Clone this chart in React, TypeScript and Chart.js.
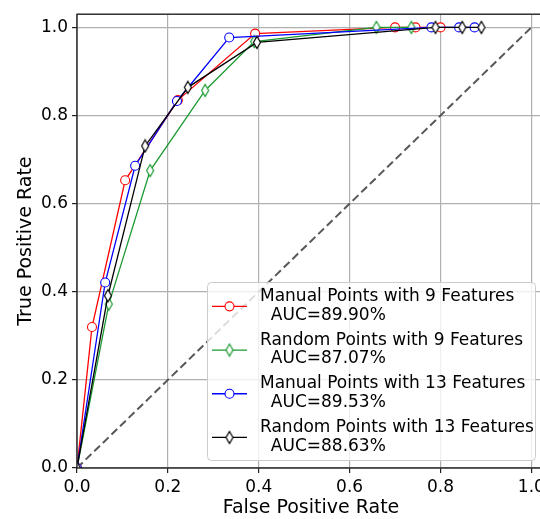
import { useEffect, useRef } from 'react';
import { Chart, registerables } from 'chart.js';

Chart.register(...registerables);

const seriesLabels = [
  'Manual Points with 9 Features',
  'Random Points with 9 Features',
  'Manual Points with 13 Features',
  'Random Points with 13 Features',
];
const aucLabels = ['89.90%', '87.07%', '89.53%', '88.63%'];
const seriesColors = ['#ff0000', '#1a9a30', '#0000ff', '#000000'];
const seriesMarkers = ['circle', 'diamond', 'circle', 'diamond'];

const manual9FPR = [0, 0.033, 0.106, 0.222, 0.392, 0.700, 0.745, 0.800];
const manual9TPR = [0, 0.320, 0.653, 0.835, 0.986, 1.0, 1.0, 1.0];
const random9FPR = [0, 0.070, 0.161, 0.282, 0.390, 0.659, 0.736];
const random9TPR = [0, 0.372, 0.675, 0.857, 0.968, 1.0, 1.0];
const manual13FPR = [0, 0.062, 0.128, 0.220, 0.335, 0.780, 0.841, 0.875];
const manual13TPR = [0, 0.421, 0.686, 0.833, 0.977, 1.0, 1.0, 1.0];
const random13FPR = [0, 0.068, 0.150, 0.244, 0.396, 0.789, 0.848, 0.890];
const random13TPR = [0, 0.391, 0.731, 0.864, 0.966, 1.0, 1.0, 1.0];

const seriesFPR = [manual9FPR, random9FPR, manual13FPR, random13FPR];
const seriesTPR = [manual9TPR, random9TPR, manual13TPR, random13TPR];

const chanceX = [0, 1];
const chanceY = [0, 1];

const tickValues = [0, 0.2, 0.4, 0.6, 0.8, 1.0];
const axisMax = 1.03;

const FONT = "'DejaVu Sans', sans-serif";

function makeThinDiamond(color: string): HTMLCanvasElement {
  const c = document.createElement('canvas');
  c.width = 10;
  c.height = 15;
  const g = c.getContext('2d')!;
  g.beginPath();
  g.moveTo(5, 1.5);
  g.lineTo(8.5, 7.5);
  g.lineTo(5, 13.5);
  g.lineTo(1.5, 7.5);
  g.closePath();
  g.fillStyle = '#ffffff';
  g.fill();
  g.lineWidth = 1.2;
  g.strokeStyle = color;
  g.stroke();
  return c;
}

export default function App() {
  const ref = useRef<HTMLCanvasElement>(null);

  useEffect(() => {
    const canvas = ref.current!;
    const diamonds = seriesColors.map((c) => makeThinDiamond(c));

    const datasets: any[] = seriesLabels.map((label, i) => ({
      label,
      data: seriesFPR[i].map((x, j) => ({ x, y: seriesTPR[i][j] })),
      borderColor: seriesColors[i],
      borderWidth: 1.3,
      pointStyle: seriesMarkers[i] === 'circle' ? 'circle' : diamonds[i],
      pointRadius: 4.5,
      pointBorderWidth: 1.1,
      pointBorderColor: seriesColors[i],
      pointBackgroundColor: '#ffffff',
      tension: 0,
      fill: false,
      clip: 0,
      order: 4 - i,
    }));

    datasets.push({
      label: 'chance',
      data: chanceX.map((x, j) => ({ x, y: chanceY[j] })),
      borderColor: 'rgba(70,70,70,0.9)',
      borderWidth: 2,
      borderDash: [8, 4],
      pointRadius: 0,
      fill: false,
      clip: 0,
      order: 10,
    });

    const framePlugin = {
      id: 'frame',
      afterDatasetsDraw(chart: any) {
        const { ctx, chartArea: a } = chart;
        ctx.save();
        ctx.strokeStyle = '#222222';
        ctx.lineWidth = 1.4;
        ctx.strokeRect(a.left, a.top, a.right - a.left, a.bottom - a.top);
        ctx.restore();
      },
    };

    const legendPlugin = {
      id: 'customLegend',
      afterDraw(chart: any) {
        const { ctx, chartArea: a } = chart;
        const bx = 207;
        const by = a.bottom - 186;
        const bw = 328;
        const bh = 178;
        ctx.save();
        ctx.beginPath();
        (ctx as any).roundRect(bx + 0.5, by + 0.5, bw, bh, 4);
        ctx.fillStyle = 'rgba(255,255,255,0.8)';
        ctx.fill();
        ctx.strokeStyle = '#cccccc';
        ctx.lineWidth = 1;
        ctx.stroke();

        ctx.font = `17px ${FONT}`;
        ctx.textBaseline = 'alphabetic';
        ctx.textAlign = 'left';
        const indent = ctx.measureText('  ').width;
        seriesLabels.forEach((label, i) => {
          const b1 = by + 19 + 43.7 * i;
          const b2 = b1 + 18.7;
          const my = (b1 + b2) / 2 - 4;
          ctx.strokeStyle = seriesColors[i];
          ctx.lineWidth = 1.3;
          ctx.beginPath();
          ctx.moveTo(212, my);
          ctx.lineTo(247, my);
          ctx.stroke();
          if (seriesMarkers[i] === 'circle') {
            ctx.beginPath();
            ctx.arc(229.5, my, 4.5, 0, Math.PI * 2);
            ctx.fillStyle = '#ffffff';
            ctx.fill();
            ctx.lineWidth = 1.1;
            ctx.stroke();
          } else {
            const d = diamonds[i];
            ctx.drawImage(d, 229.5 - d.width / 2, my - d.height / 2);
          }
          ctx.fillStyle = '#000000';
          ctx.fillText(label, 260, b1);
          ctx.fillText('AUC=' + aucLabels[i], 260 + indent, b2);
        });
        ctx.restore();
      },
    };

    const chart = new Chart(canvas, {
      type: 'line',
      data: { datasets },
      plugins: [framePlugin, legendPlugin],
      options: {
        responsive: false,
        animation: false,
        layout: { padding: { left: 0, right: 15, top: 13, bottom: 0 } },
        plugins: {
          legend: { display: false },
          tooltip: { enabled: false },
        },
        scales: {
          x: {
            type: 'linear',
            min: 0,
            max: axisMax,
            afterBuildTicks: (s: any) => {
              s.ticks = tickValues.map((v) => ({ value: v }));
            },
            afterFit: (s: any) => {
              s.height = 51;
            },
            ticks: {
              callback: (v: any) => Number(v).toFixed(1),
              font: { family: FONT, size: 17 },
              color: '#000000',
              padding: 4,
              maxRotation: 0,
              autoSkip: false,
            },
            grid: {
              color: '#b0b0b0',
              lineWidth: 1.2,
              tickLength: 5,
              tickColor: '#222222',
              tickWidth: 1.2,
            },
            border: { display: false },
            title: {
              display: true,
              text: 'False Positive Rate',
              font: { family: FONT, size: 19 },
              color: '#000000',
              padding: { top: 0, bottom: 0 },
            },
          },
          y: {
            type: 'linear',
            min: 0,
            max: axisMax,
            afterBuildTicks: (s: any) => {
              s.ticks = tickValues.map((v) => ({ value: v }));
            },
            afterFit: (s: any) => {
              s.width = 77;
            },
            ticks: {
              callback: (v: any) => Number(v).toFixed(1),
              font: { family: FONT, size: 17 },
              color: '#000000',
              padding: 4,
              autoSkip: false,
            },
            grid: {
              color: '#b0b0b0',
              lineWidth: 1.2,
              tickLength: 5,
              tickColor: '#222222',
              tickWidth: 1.2,
            },
            border: { display: false },
            title: {
              display: true,
              text: 'True Positive Rate',
              font: { family: FONT, size: 19 },
              color: '#000000',
              padding: { top: 15, bottom: 0 },
            },
          },
        },
      } as any,
    });

    return () => chart.destroy();
  }, []);

  return (
    <div
      style={{
        position: 'fixed',
        left: 0,
        top: 0,
        width: 540,
        height: 519,
        overflow: 'hidden',
        background: '#ffffff',
      }}
    >
      <canvas
        ref={ref}
        width={560}
        height={519}
        style={{ display: 'block', width: 560, height: 519 }}
      />
    </div>
  );
}
